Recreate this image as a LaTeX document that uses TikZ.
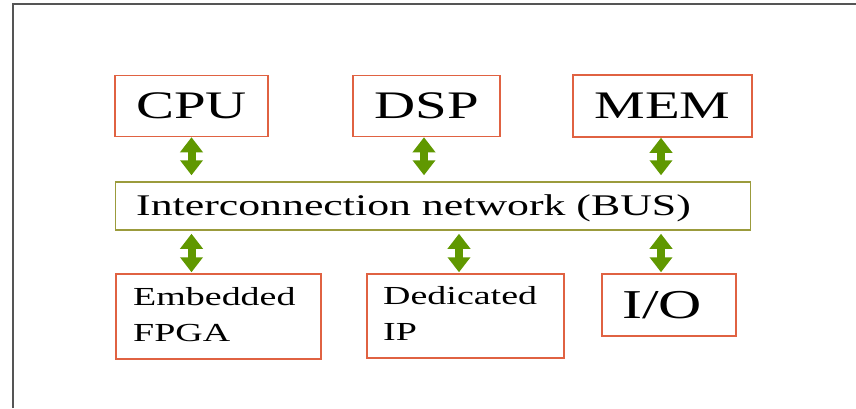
\documentclass[tikz,border=0pt]{standalone}
\usepackage{fontspec}
\setmainfont[FakeStretch=1.46]{Liberation Serif}
\usetikzlibrary{arrows.meta}
\definecolor{boxred}{RGB}{224,98,66}
\definecolor{busolive}{RGB}{155,155,60}
\definecolor{arrgreen}{RGB}{96,152,0}
\definecolor{framegray}{RGB}{85,85,85}
\tikzset{
  obox/.style={draw=boxred, line width=1.5pt, inner sep=0pt},
  busbox/.style={draw=busolive, line width=1.5pt, inner sep=0pt},
  txt/.style={inner sep=0pt, anchor=base west},
  garrow/.style={draw=arrgreen, line width=8pt,
    {Triangle[width=22pt,length=15pt]}-{Triangle[width=22pt,length=15pt]}},
}
\begin{document}
\begin{tikzpicture}[x=1pt,y=-1pt]
\useasboundingbox (0,0) rectangle (856,408);
\draw[framegray, line width=2pt] (13,408) -- (13,4) -- (856,4);
% top boxes
\node[obox, minimum width=153pt, minimum height=61pt, font=\fontsize{39}{39}\selectfont] (cpu) at (191.5,106) {CPU};
\node[obox, minimum width=147pt, minimum height=61pt, font=\fontsize{39}{39}\selectfont] (dsp) at (426.5,106) {DSP};
\node[obox, minimum width=179pt, minimum height=62pt, font=\fontsize{39}{39}\selectfont] (mem) at (662.5,106) {MEM};
% bus
\node[busbox, minimum width=635pt, minimum height=48pt] (bus) at (433.2,206) {};
\node[txt, font=\fontsize{30}{30}\selectfont] (bustxt) at (136,215) {Interconnection network (BUS)};
% bottom boxes
\node[obox, minimum width=205pt, minimum height=85pt] (fpga) at (218.3,316.5) {};
\node[txt, font=\fontsize{26}{26}\selectfont] (fpgat1) at (133,305) {Embedded};
\node[txt, font=\fontsize{26}{26}\selectfont] (fpgat2) at (133,341.5) {FPGA};
\node[obox, minimum width=197pt, minimum height=84pt] (ip) at (465.3,316) {};
\node[txt, font=\fontsize{26}{26}\selectfont] (ipt1) at (383,304) {Dedicated};
\node[txt, font=\fontsize{26}{26}\selectfont] (ipt2) at (383,340) {IP};
\node[obox, minimum width=134pt, minimum height=62pt] (io) at (669,305) {};
\node[txt, font=\fontsize{41}{41}\selectfont] (iot) at (622,318) {I/O};
% arrows
\draw[garrow, shorten >=6pt] (cpu.south) -- (cpu.south |- bus.north);
\draw[garrow, shorten >=6pt] ([xshift=-2.5pt]dsp.south) -- ([xshift=-2.5pt]dsp.south |- bus.north);
\draw[garrow, shorten >=6pt] ([xshift=-1.5pt]mem.south) -- ([xshift=-1.5pt]mem.south |- bus.north);
\draw[garrow, shorten <=3pt, shorten >=1pt] (bus.south -| cpu.south) -- (fpga.north -| cpu.south);
\draw[garrow, shorten <=3pt, shorten >=1pt] (bus.south -| 459,0) -- (ip.north -| 459,0);
\draw[garrow, shorten <=3pt, shorten >=1pt] (bus.south -| 661,0) -- (io.north -| 661,0);
\end{tikzpicture}
\end{document}
